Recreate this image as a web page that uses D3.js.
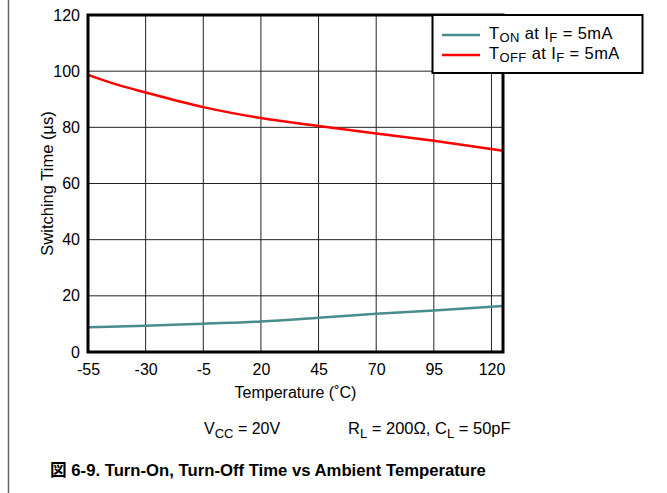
<!DOCTYPE html>
<html>
<head>
<meta charset="utf-8">
<script src="https://cdn.jsdelivr.net/npm/d3@7"></script>
<style>
  body { margin: 0; background: #fff; }
  svg text { font-family: "Liberation Sans", Arial, sans-serif; fill: #000; }
</style>
</head>
<body>
<div id="chart"></div>
<script>
// data
const temps = [-55, -42, -30, -5, 20, 45, 70, 95, 125];
const tOff = [98.7, 95.1, 92.4, 87.2, 83.3, 80.5, 77.8, 75.2, 71.7];
const tOn = [8.8, 9.1, 9.35, 10.1, 10.9, 12.2, 13.6, 14.8, 16.4];
const xTicks = [-55, -30, -5, 20, 45, 70, 95, 120];
const yTicks = [0, 20, 40, 60, 80, 100, 120];

const width = 667, height = 493;
const margin = { top: 15, left: 88, right: 164, bottom: 141 };

let svg = d3.select("#chart").append("svg")
    .attr("width", width)
    .attr("height", height);

// page border on the left
svg.append("line")
    .attr("x1", 8.5).attr("x2", 8.5)
    .attr("y1", 0).attr("y2", height)
    .style("stroke", "#666")
    .style("stroke-width", 1.5);

let w = width - margin.left - margin.right;
let h = height - margin.top - margin.bottom;

let g = svg.append("g")
    .attr("transform", "translate(" + margin.left + "," + margin.top + ")");

let x = d3.scaleLinear().domain([-55, 125]).range([0, w]);
let y = d3.scaleLinear().domain([0, 120]).range([h, 0]);

// grid
g.selectAll(".vgrid").data(xTicks.slice(1)).enter().append("line")
    .attr("class", "vgrid")
    .attr("x1", d => x(d)).attr("x2", d => x(d))
    .attr("y1", 0).attr("y2", h)
    .style("stroke", "#222").style("stroke-width", 1);

g.selectAll(".hgrid").data(yTicks.slice(1, -1)).enter().append("line")
    .attr("class", "hgrid")
    .attr("x1", 0).attr("x2", w)
    .attr("y1", d => y(d)).attr("y2", d => y(d))
    .style("stroke", "#222").style("stroke-width", 1);

// axes labels (plain hyphen like the original)
let xAxis = d3.axisBottom(x).tickValues(xTicks).tickSize(0).tickPadding(12).tickFormat(d => String(d));
let yAxis = d3.axisLeft(y).tickValues(yTicks).tickSize(0).tickPadding(8).tickFormat(d => String(d));

let gx = g.append("g").attr("transform", "translate(0," + h + ")").call(xAxis);
let gy = g.append("g").call(yAxis);
[gx, gy].forEach(a => {
    a.select(".domain").remove();
    a.selectAll("text").style("font-size", "16px");
});

// lines
let line = d3.line()
    .x((d, i) => x(temps[i]))
    .y(d => y(d))
    .curve(d3.curveMonotoneX);

g.append("path")
    .datum(tOn)
    .attr("d", line)
    .style("fill", "none")
    .style("stroke", "#4a8c8c")
    .style("stroke-width", 2.5);

g.append("path")
    .datum(tOff)
    .attr("d", line)
    .style("fill", "none")
    .style("stroke", "#ff0000")
    .style("stroke-width", 2.5);

// plot frame
g.append("rect")
    .attr("x", 0).attr("y", 0)
    .attr("width", w).attr("height", h)
    .style("fill", "none")
    .style("stroke", "#000")
    .style("stroke-width", 3);

// axis titles
svg.append("text")
    .attr("x", margin.left + w / 2)
    .attr("y", 398)
    .attr("text-anchor", "middle")
    .style("font-size", "16px")
    .text("Temperature (˚C)");

svg.append("text")
    .attr("transform", "translate(53," + (margin.top + h / 2) + ") rotate(-90)")
    .attr("text-anchor", "middle")
    .style("font-size", "16.5px")
    .text("Switching Time (µs)");

// legend
let legend = svg.append("g");
legend.append("rect")
    .attr("x", 432.5).attr("y", 15)
    .attr("width", 210).attr("height", 58)
    .style("fill", "#fff")
    .style("stroke", "#000")
    .style("stroke-width", 2);

let legendItems = [
    { color: "#4a8c8c", sub: "ON" },
    { color: "#ff0000", sub: "OFF" }
];
legendItems.forEach((d, i) => {
    let yy = 35 + i * 20;
    legend.append("line")
        .attr("x1", 442).attr("x2", 480)
        .attr("y1", yy).attr("y2", yy)
        .style("stroke", d.color)
        .style("stroke-width", 2.5);
    let t = legend.append("text")
        .attr("x", 489).attr("y", yy + 4)
        .style("font-size", "16.5px")
        .style("letter-spacing", "0.4px");
    t.append("tspan").text("T");
    t.append("tspan").attr("dy", 3).style("font-size", "13px").text(d.sub);
    t.append("tspan").attr("dy", -3).text(" at I");
    t.append("tspan").attr("dy", 3).style("font-size", "13px").text("F");
    t.append("tspan").attr("dy", -3).text(" = 5mA");
});

// conditions
let c1 = svg.append("text").attr("x", 204).attr("y", 434).style("font-size", "16px");
c1.append("tspan").text("V");
c1.append("tspan").attr("dy", 4).style("font-size", "13px").text("CC");
c1.append("tspan").attr("dy", -4).text(" = 20V");

let c2 = svg.append("text").attr("x", 348).attr("y", 434).style("font-size", "16.5px");
c2.append("tspan").text("R");
c2.append("tspan").attr("dy", 4).style("font-size", "13px").text("L");
c2.append("tspan").attr("dy", -4).text(" = 200Ω, C");
c2.append("tspan").attr("dy", 4).style("font-size", "13px").text("L");
c2.append("tspan").attr("dy", -4).text(" = 50pF");

// caption
svg.append("text")
    .attr("x", 50).attr("y", 476)
    .style("font-size", "16.7px")
    .style("font-weight", "bold")
    .style("font-family", "'Liberation Sans', 'Noto Sans CJK JP', sans-serif")
    .text("図 6-9. Turn-On, Turn-Off Time vs Ambient Temperature");
</script>
</body>
</html>
